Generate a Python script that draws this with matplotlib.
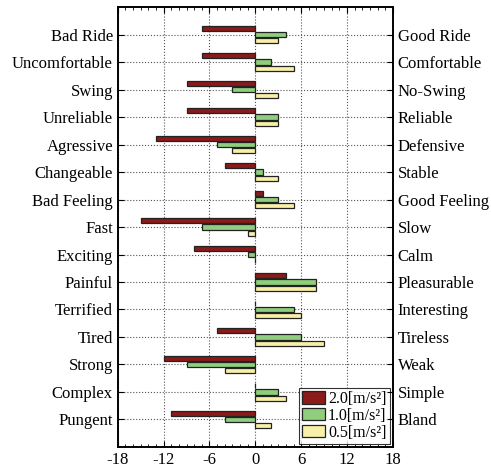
import numpy as np
import matplotlib.pyplot as plt
from matplotlib.ticker import MultipleLocator

plt.rcParams['font.family'] = ['Liberation Serif', 'DejaVu Serif']
plt.rcParams['axes.unicode_minus'] = False

# pasangan kata sifat (kiri = negatif, kanan = positif)
left_labels = ['Bad Ride', 'Uncomfortable', 'Swing', 'Unreliable', 'Agressive',
               'Changeable', 'Bad Feeling', 'Fast', 'Exciting', 'Painful',
               'Terrified', 'Tired', 'Strong', 'Complex', 'Pungent']
right_labels = ['Good Ride', 'Comfortable', 'No-Swing', 'Reliable', 'Defensive',
                'Stable', 'Good Feeling', 'Slow', 'Calm', 'Pleasurable',
                'Interesting', 'Tireless', 'Weak', 'Simple', 'Bland']

acc_20 = [-7, -7, -9, -9, -13, -4, 1, -15, -8, 4, 0, -5, -12, 0, -11]
acc_10 = [4, 2, -3, 3, -5, 1, 3, -7, -1, 8, 5, 6, -9, 3, -4]
acc_05 = [3, 5, 3, 3, -3, 3, 5, -1, 0, 8, 6, 9, -4, 4, 2]

series = [(acc_20, '#8b1a1a', '2.0[m/s²]'),
          (acc_10, '#8fce7c', '1.0[m/s²]'),
          (acc_05, '#f8f0a8', '0.5[m/s²]')]

y = np.arange(1, len(left_labels) + 1)
h = 0.19
offsets = [-0.23, 0.0, 0.23]

fig = plt.figure(figsize=(4.91, 4.70), dpi=100)
ax = fig.add_axes([0.240, 0.049, 0.560, 0.936])

for (vals, col, lab), off in zip(series, offsets):
    ax.barh(y + off, vals, height=h, color=col, edgecolor='#222222',
            linewidth=0.9, label=lab, zorder=3)

ax.set_xlim(-18, 18)
ax.set_ylim(16, 0)
ax.xaxis.set_major_locator(MultipleLocator(6))
ax.xaxis.set_minor_locator(MultipleLocator(1))
ax.set_yticks(y)
ax.set_yticklabels(left_labels)
ax.tick_params(axis='both', which='both', direction='in', labelsize=12,
               top=True, right=True)
ax.tick_params(axis='y', length=4)
ax.tick_params(axis='x', which='major', length=4)
ax.tick_params(axis='x', which='minor', length=2)

ax2 = ax.twinx()
ax2.set_ylim(ax.get_ylim())
ax2.set_yticks(y)
ax2.set_yticklabels(right_labels)
ax2.tick_params(axis='y', direction='in', length=4, labelsize=12)

ax.grid(True, linestyle=':', color='#555555', linewidth=0.8, zorder=0)
for a in (ax, ax2):
    for s in a.spines.values():
        s.set_linewidth(1.2)

leg = ax.legend(loc='lower right', fontsize=11.5, frameon=True, fancybox=False,
                edgecolor='black', borderpad=0.2, labelspacing=0.05,
                handlelength=1.4, handleheight=0.8, handletextpad=0.2,
                borderaxespad=0.2)
leg.get_frame().set_linewidth(0.8)
leg.set_zorder(5)

plt.savefig('out.png', dpi=100)
